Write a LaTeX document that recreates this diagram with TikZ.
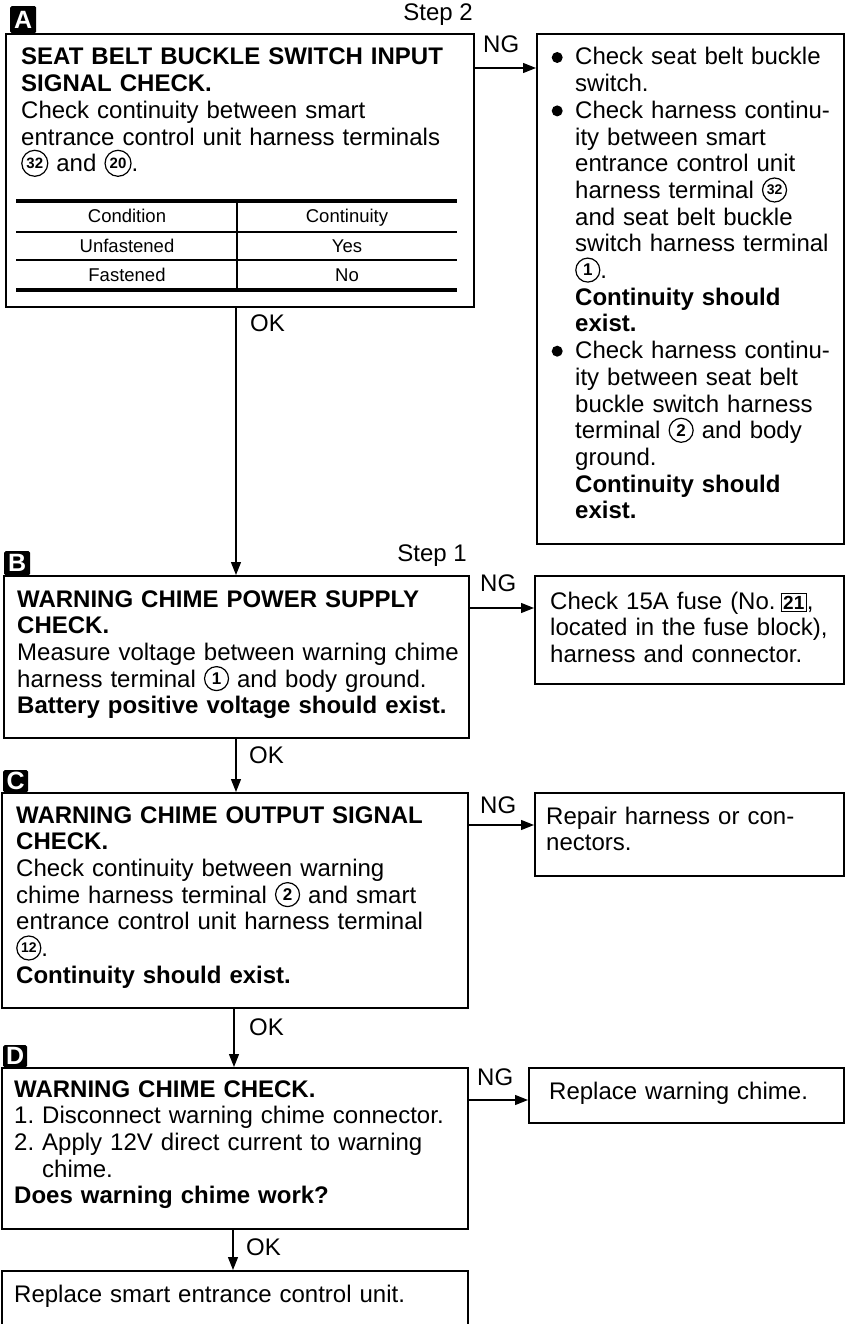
\documentclass[tikz,border=0pt]{standalone}
\usepackage{fontspec}
\setmainfont{Liberation Sans}
\usetikzlibrary{arrows.meta}
\newcommand\mainfs{\fontsize{24}{26.7}\selectfont}
\newcommand\tabfs{\fontsize{18.5}{20}\selectfont}
\newcommand\cnum[3]{\tikz[baseline=-8.5pt]{\draw[line width=1.2pt] (0pt,0pt) circle (#1); \path (0pt,0pt) node[inner sep=0pt,text width={},align=center,anchor=center,font=\fontsize{#2}{#2}\selectfont\bfseries] {#3};}}
\newcommand\bnum[1]{{\setlength\fboxsep{1.5pt}\setlength\fboxrule{1.1pt}\fbox{\fontsize{19}{19}\selectfont\bfseries #1}}}
\newcommand\bul{\leavevmode\llap{\tikz[baseline=-7.5pt]\fill (0pt,0pt) circle (5.5pt);\hspace{12.5pt}}}
\tikzset{
  box/.style={draw, line width=1.6pt, rectangle, inner sep=0pt, anchor=north west},
  txt/.style={anchor=base west, inner sep=0pt, align=left, text width=#1, font=\mainfs},
  txt/.default=455pt,
  lbl/.style={inner sep=0pt, font=\mainfs},
  tab/.style={anchor=base, inner sep=0pt, font=\tabfs},
  arr/.style={line width=1.3pt, -{Triangle[length=13pt,width=10pt]}},
  markerbox/.style={fill=black, text=white, inner sep=0pt, anchor=north west, rounded corners=1.5pt, font=\fontsize{25}{25}\selectfont\bfseries}
}
\begin{document}
\begin{tikzpicture}[x=1pt,y=-1pt]
\useasboundingbox (0,0) rectangle (846,1324);
\fill[white] (0,0) rectangle (846,1324);

% ---------- boxes ----------
\node[box, minimum width=468pt, minimum height=273pt] (A) at (5,33) {};
\node[box, minimum width=307pt, minimum height=510pt] (NA) at (536,33) {};
\node[box, minimum width=465pt, minimum height=162pt] (B) at (3,575) {};
\node[box, minimum width=309pt, minimum height=108pt] (NB) at (534,575) {};
\node[box, minimum width=466pt, minimum height=215pt] (C) at (1,792) {};
\node[box, minimum width=309pt, minimum height=83pt] (NC) at (534,792) {};
\node[box, minimum width=466pt, minimum height=161pt] (D) at (1,1067) {};
\node[box, minimum width=315pt, minimum height=55pt] (ND) at (528,1067) {};
\node[box, minimum width=466pt, minimum height=80pt] (E) at (1,1270) {};

% ---------- markers ----------
\node[markerbox, minimum width=26pt, minimum height=27pt] (mA) at (10,6) {A};
\node[markerbox, minimum width=26pt, minimum height=24pt] (mB) at (4,551) {B};
\node[markerbox, minimum width=25pt, minimum height=22pt] (mC) at (3,770) {C};
\node[markerbox, minimum width=24pt, minimum height=22pt] (mD) at (3,1045) {D};

\node[lbl, anchor=base east] (s2) at (473,21) {Step 2};
\node[lbl, anchor=base east] (s1) at (467,561) {Step 1};

% ---------- box A ----------
\node[txt] (tA) at (21,65) {\textbf{SEAT BELT BUCKLE SWITCH INPUT}\\
\textbf{SIGNAL CHECK.}\\
Check continuity between smart\\
entrance control unit harness terminals\\
\cnum{13pt}{15}{32} and \cnum{13pt}{15}{20}.};

\draw[line width=3.5pt] (16,201) -- (457,201);
\draw[line width=1.1pt] (16,232) -- (457,232);
\draw[line width=1.1pt] (16,260) -- (457,260);
\draw[line width=3.5pt] (16,290) -- (457,290);
\draw[line width=1.1pt] (237,201) -- (237,290);
\node[tab] (t11) at (127,223) {Condition};
\node[tab] (t12) at (347,223) {Continuity};
\node[tab] (t21) at (127,252) {Unfastened};
\node[tab] (t22) at (347,252) {Yes};
\node[tab] (t31) at (127,281) {Fastened};
\node[tab] (t32) at (347,281) {No};

% ---------- box NA ----------
\node[txt=265pt] (tNA) at (575,65) {\bul Check seat belt buckle\\
switch.\\
\bul Check harness continu-\\
ity between smart\\
entrance control unit\\
harness terminal \cnum{12pt}{14}{32}\\
and seat belt buckle\\
switch harness terminal\\
\cnum{12pt}{17}{1}.\\
\textbf{Continuity should}\\
\textbf{exist.}\\
\bul Check harness continu-\\
ity between seat belt\\
buckle switch harness\\
terminal \cnum{12pt}{17}{2} and body\\
ground.\\
\textbf{Continuity should}\\
\textbf{exist.}};

% ---------- box B ----------
\node[txt] (tB) at (17,607) {\textbf{WARNING CHIME POWER SUPPLY}\\
\textbf{CHECK.}\\
Measure voltage between warning chime\\
harness terminal \cnum{12pt}{17}{1} and body ground.\\
\textbf{Battery positive voltage should exist.}};

\node[txt=290pt] (tNB) at (550,609) {Check 15A fuse (No.\hspace{5pt}\bnum{21},\\
located in the fuse block),\\
harness and connector.};

% ---------- box C ----------
\node[txt] (tC) at (16,823) {\textbf{WARNING CHIME OUTPUT SIGNAL}\\
\textbf{CHECK.}\\
Check continuity between warning\\
chime harness terminal \cnum{12pt}{17}{2} and smart\\
entrance control unit harness terminal\\
\cnum{12pt}{14}{12}.\\
\textbf{Continuity should exist.}};

\node[txt=290pt] (tNC) at (546,824) {Repair harness or con-\\
nectors.};

% ---------- box D ----------
\node[txt] (tD) at (14,1097) {\textbf{WARNING CHIME CHECK.}\\
\makebox[28pt][l]{1.}Disconnect warning chime connector.\\
\makebox[28pt][l]{2.}Apply 12V direct current to warning\\
\makebox[28pt][l]{}chime.\\
\textbf{Does warning chime work?}};

\node[txt=290pt] (tND) at (549,1099) {Replace warning chime.};

\node[txt] (tE) at (14,1302) {Replace smart entrance control unit.};

% ---------- connectors ----------
\coordinate (xab) at (236,0);
\coordinate (xbc) at (236,0);
\coordinate (xcd) at (234,0);
\coordinate (xde) at (233,0);
\draw[arr] (A.south -| xab) -- (B.north -| xab);
\draw[arr] (B.south -| xbc) -- (C.north -| xbc);
\draw[arr] (C.south -| xcd) -- (D.north -| xcd);
\draw[arr] (D.south -| xde) -- (E.north -| xde);

\coordinate (ya) at (0,68);
\coordinate (yb) at (0,608);
\coordinate (yc) at (0,825);
\coordinate (yd) at (0,1100);
\draw[arr] (A.east |- ya) -- (NA.west |- ya);
\draw[arr] (B.east |- yb) -- (NB.west |- yb);
\draw[arr] (C.east |- yc) -- (NC.west |- yc);
\draw[arr] (D.east |- yd) -- (ND.west |- yd);

\node[lbl, anchor=base west] (okA) at (250,331) {OK};
\node[lbl, anchor=base west] (okB) at (249,763) {OK};
\node[lbl, anchor=base west] (okC) at (249,1035) {OK};
\node[lbl, anchor=base west] (okD) at (246,1255) {OK};
\node[lbl, anchor=base west] (ngA) at (483,53) {NG};
\node[lbl, anchor=base west] (ngB) at (480,591) {NG};
\node[lbl, anchor=base west] (ngC) at (480,813) {NG};
\node[lbl, anchor=base west] (ngD) at (477,1085) {NG};
\end{tikzpicture}
\end{document}
